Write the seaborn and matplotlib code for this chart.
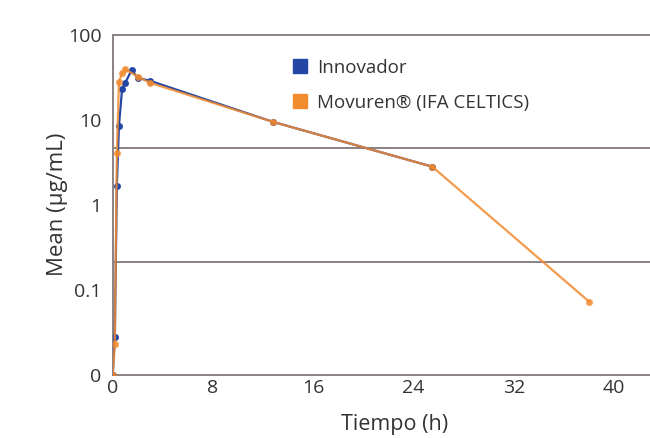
import numpy as np
import pandas as pd
import matplotlib
matplotlib.use("Agg")
import matplotlib.pyplot as plt
import seaborn as sns
from matplotlib.lines import Line2D

# datos
tiempo_innovador = [0, 0.17, 0.33, 0.5, 0.75, 1.0, 1.5, 2.0, 3.0, 12.8, 25.5]
conc_innovador = [0.01, 0.028, 1.67, 8.5, 23, 27, 38, 31, 28.5, 9.4, 2.8]

tiempo_movuren = [0, 0.17, 0.33, 0.5, 0.75, 1.0, 2.0, 3.0, 12.8, 25.5, 38.0]
conc_movuren = [0.01, 0.023, 4.1, 28, 35, 39, 32, 27, 9.4, 2.8, 0.073]

series = ["Innovador", "Movuren® (IFA CELTICS)"]
colores = ["#2447a6", "#f28a2e"]

x_ticks = [0, 8, 16, 24, 32, 40]
y_ticks = [0.01, 0.1, 1, 10, 100]
y_labels = ["0", "0.1", "1", "10", "100"]

df = pd.concat([
    pd.DataFrame({"t": tiempo_innovador, "c": conc_innovador, "serie": series[0]}),
    pd.DataFrame({"t": tiempo_movuren, "c": conc_movuren, "serie": series[1]}),
])

sns.set_style("white")
plt.rcParams['font.family'] = ['Open Sans', 'DejaVu Sans']

fig = plt.figure(figsize=(6.5, 4.38), dpi=100)
ax = fig.add_axes([112.7 / 650, 63 / 438, 564 / 650, 340.5 / 438])

gris = "#8a8282"
# líneas de rejilla (a tercios del eje, como en el original)
for g in [10 ** (2 / 3), 10 ** (-2 / 3)]:
    ax.axhline(g, color=gris, lw=1.4, zorder=1)

for serie, color, alpha in zip(series, colores, [1.0, 0.85]):
    sub = df[df["serie"] == serie]
    sns.lineplot(data=sub, x="t", y="c", ax=ax, color=color, alpha=alpha,
                 marker="o", markersize=5, markeredgewidth=0, lw=1.6,
                 legend=False, zorder=3)

ax.set_yscale("log")
ax.set_ylim(0.01, 100)
ax.set_xlim(0, 45)
ax.set_yticks(y_ticks)
ax.set_yticklabels(y_labels)
ax.minorticks_off()
ax.set_xticks(x_ticks)

for s in ["left", "bottom", "top"]:
    ax.spines[s].set_color(gris)
    ax.spines[s].set_linewidth(1.4)
ax.spines["right"].set_visible(False)

ax.tick_params(axis="x", direction="in", length=4, width=1, color=gris,
               labelsize=14, labelcolor="#333333", pad=3)
ax.tick_params(axis="y", length=0, labelsize=14, labelcolor="#333333", pad=8)

ax.set_xlabel("Tiempo (h)", fontsize=15.5, color="#333333", labelpad=12)
ax.set_ylabel("Mean (μg/mL)", fontsize=16, color="#333333", labelpad=0)

handles = [Line2D([], [], marker="s", ls="", color=c, markersize=10) for c in colores]
ax.legend(handles, series, loc="upper left", bbox_to_anchor=(0.283, 0.978),
          frameon=False, fontsize=13.5, handletextpad=0.3, labelspacing=0.9,
          labelcolor="#333333", handlelength=1.2)

fig.savefig("out.png", dpi=100)
